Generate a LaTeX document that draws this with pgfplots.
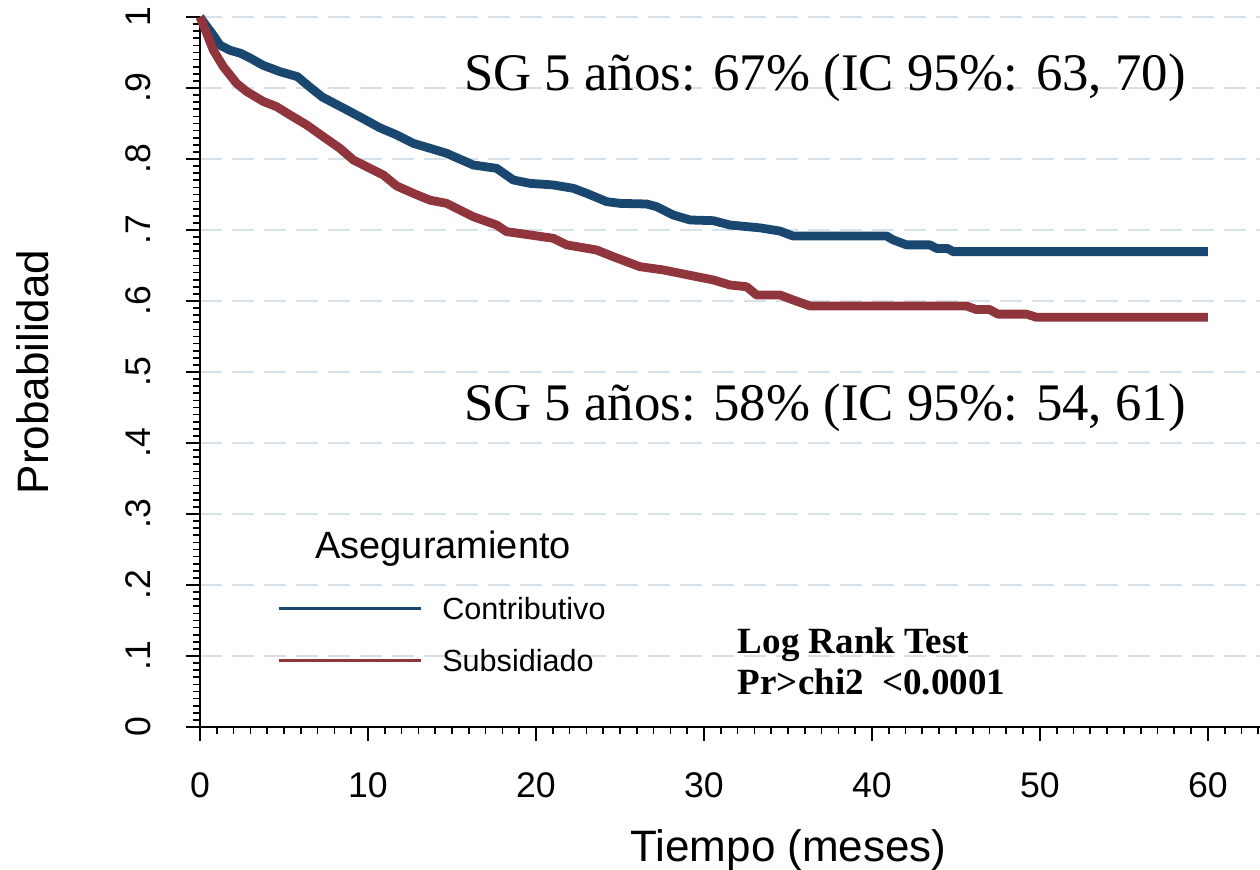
\documentclass[border=0pt]{standalone}
\usepackage{fontspec}
\setmainfont{Liberation Sans}
\newfontfamily\timesf{Liberation Serif}
\usepackage{pgfplots}
\pgfplotsset{compat=1.18}
\definecolor{kmblue}{RGB}{26,71,111}
\definecolor{kmred}{RGB}{144,53,59}
\definecolor{gridc}{RGB}{214,226,233}
\begin{document}
\begin{tikzpicture}
\useasboundingbox (-100pt,-71.5pt) rectangle (530pt,363.5pt);
\begin{axis}[
  at={(0pt,0pt)}, anchor=south west,
  scale only axis, width=530pt, height=355pt,
  xmin=0, xmax=63.1, ymin=0, ymax=1,
  axis x line*=bottom, axis y line*=left,
  axis line style={line width=1.3pt, -},
  tick align=outside,
  xtick={0,10,20,30,40,50,60},
  xticklabels={0,10,20,30,40,50,60},
  minor xtick={0,1,...,63},
  ytick={0,0.1,0.2,0.3,0.4,0.5,0.6,0.7,0.8,0.9,1},
  yticklabels={0,.1,.2,.3,.4,.5,.6,.7,.8,.9,1},
  minor ytick={0,0.01,...,1.001},
  major tick length=7pt, minor tick length=3.5pt,
  every tick/.append style={black, line width=0.85pt},
  ymajorgrids,
  grid style={gridc, line width=0.6pt, dash pattern=on 11pt off 5pt},
  tick label style={font=\fontsize{17.8}{20}\selectfont},
  xticklabel style={inner sep=0pt, anchor=north, yshift=-15.5pt},
  yticklabel style={inner sep=0pt, anchor=base, xshift=-17.5pt, rotate=90},
  xlabel={Tiempo (meses)}, ylabel={Probabilidad},
  label style={font=\fontsize{22}{26}\selectfont},
  xlabel style={at={(rel axis cs:0.5552,0)}, anchor=base, inner sep=0pt, yshift=-67.35pt},
  ylabel style={at={(rel axis cs:0,0.5)}, anchor=center, inner sep=0pt, yshift=83.5pt},
  clip=false,
  legend cell align=left,
  legend style={at={(axis cs:4.60,0.1827)}, anchor=north west, draw=none, fill=none,
    inner sep=0pt, outer sep=0pt, row sep=15.2pt, column sep=10pt,
    font=\fontsize{15.3}{18}\selectfont,
    nodes={inner sep=0pt, text height=11pt, text depth=0pt}},
  legend image code/.code={\draw[#1, line width=1.65pt, line cap=butt] (0pt,0pt) -- (70.85pt,0pt);},
]
\addplot[kmblue, line width=4.4pt, line join=round, line cap=butt] coordinates {
(0,1.000) (0.3,0.990) (0.77,0.975) (1.2,0.960) (1.8,0.953) (2.4,0.949) (3.0,0.942)
(3.75,0.932) (4.76,0.923) (5.8,0.916) (6.5,0.902) (7.3,0.887) (8.75,0.869) (9.7,0.857)
(10.7,0.844) (11.7,0.834) (12.7,0.822) (13.7,0.815) (14.68,0.808) (16.27,0.7915)
(17.66,0.7868) (18.65,0.7704) (19.64,0.7657) (21.03,0.7634) (22.22,0.7587) (23.02,0.7516)
(24.21,0.7399) (25.0,0.7375) (26.59,0.7366) (27.18,0.7328) (28.17,0.7211) (29.17,0.7141)
(30.56,0.7131) (31.55,0.7070) (33.33,0.7030) (34.52,0.6985) (35.3,0.6915) (40.87,0.6915)
(41.27,0.686) (42.06,0.679) (43.45,0.679) (43.85,0.674) (44.5,0.674) (44.84,0.6695) (60,0.6695)
};
\addlegendentry{Contributivo}
\addplot[kmred, line width=4.4pt, line join=round, line cap=butt] coordinates {
(0,1.0) (0.40,0.977) (0.79,0.9535) (1.39,0.930) (2.18,0.9065) (2.78,0.895) (3.77,0.881)
(4.56,0.8737) (5.36,0.862) (6.35,0.848) (7.34,0.8314) (8.33,0.815) (9.13,0.7986)
(10.12,0.7868) (10.91,0.7775) (11.71,0.762) (12.70,0.7516) (13.69,0.742) (14.68,0.7375)
(16.27,0.7187) (17.66,0.707) (18.25,0.6977) (19.64,0.693) (21.03,0.6883) (21.83,0.679)
(23.61,0.6718) (24.6,0.6624) (26.19,0.6483) (27.58,0.6437) (29.56,0.6343) (30.56,0.6296)
(31.55,0.6225) (32.54,0.6201) (33.13,0.6085) (34.52,0.6085) (35.32,0.6014) (36.31,0.593)
(45.63,0.593) (46.2,0.588) (47.0,0.588) (47.5,0.5815) (49.2,0.5815) (49.8,0.577) (60,0.577)
};
\addlegendentry{Subsidiado}
\node[anchor=base west, inner sep=0pt, font=\fontsize{19}{22}\selectfont] at (axis cs:6.845,0.2371) {Aseguramiento};
\node[anchor=base west, inner sep=0pt, font=\timesf\fontsize{26.4}{30}\selectfont] at (axis cs:15.70,0.897) {SG 5 años: 67\% (IC 95\%: 63, 70)};
\node[anchor=base west, inner sep=0pt, font=\timesf\fontsize{26.4}{30}\selectfont] at (axis cs:15.70,0.432) {SG 5 años: 58\% (IC 95\%: 54, 61)};
\node[anchor=base west, inner sep=0pt, font=\timesf\bfseries\fontsize{18.5}{21}\selectfont] at (axis cs:32.0,0.1038) {Log Rank Test};
\node[anchor=base west, inner sep=0pt, font=\timesf\bfseries\fontsize{18.5}{21}\selectfont] at (axis cs:32.0,0.0451) {Pr>chi2~~<0.0001};
\end{axis}
\end{tikzpicture}
\end{document}
